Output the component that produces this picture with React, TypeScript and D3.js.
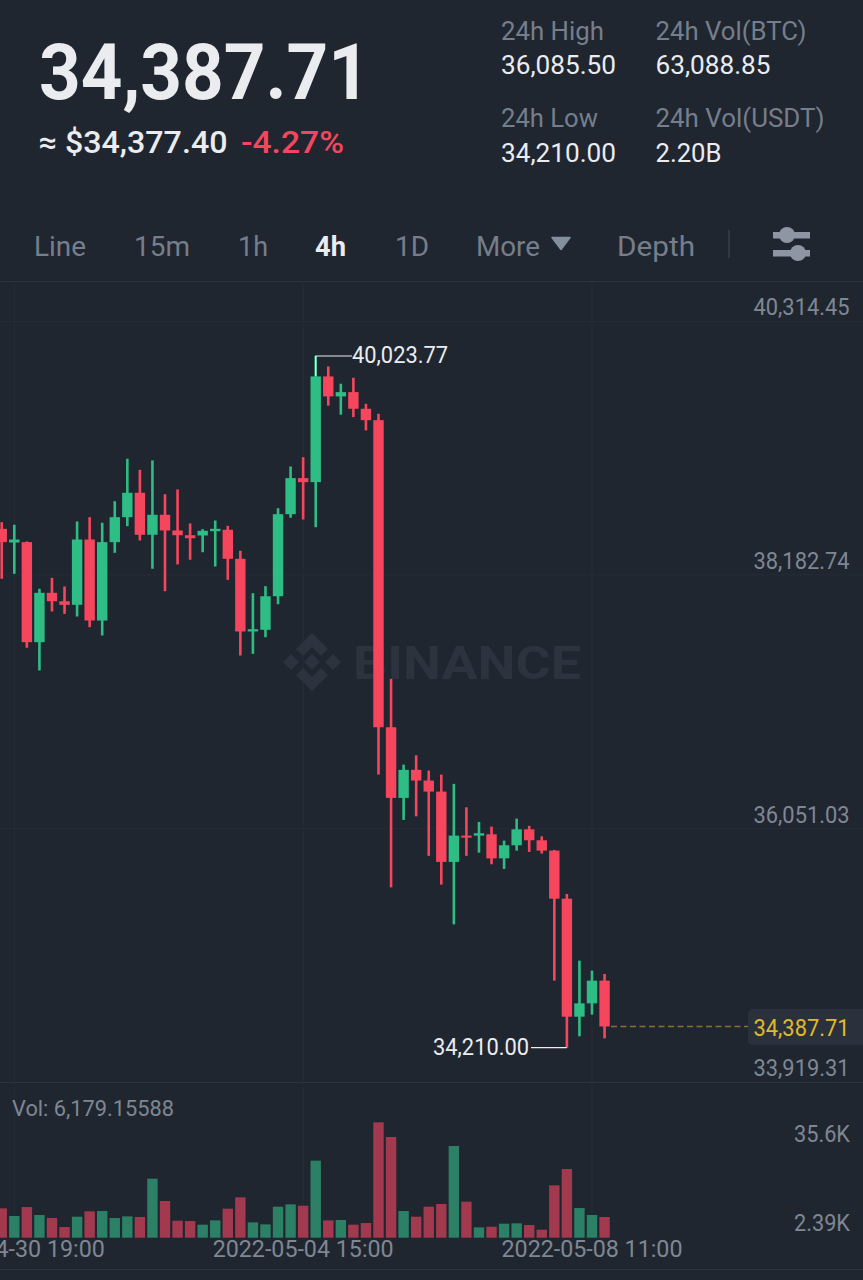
import React from 'react';
import * as d3 from 'd3';

const WIDTH = 863;
const HEIGHT = 1280;

// 4h candles, first one opens 2022-04-30 15:00
const firstCandle = Date.UTC(2022, 3, 30, 15);
const fourHours = 4 * 3600 * 1000;

const opens = [38571, 38456, 38459, 37618, 38033, 37962, 37932, 38481, 37800, 38459, 38669, 38874, 38521, 38689, 38557, 38517, 38515, 38551, 38563, 38319, 37708, 37722, 38004, 38694, 38997, 38963, 39852, 39684, 39720, 39580, 39484, 36903, 36309, 36545, 36455, 36362, 35771, 35992, 35992, 36003, 35801, 35911, 36045, 35953, 35866, 35462, 34470, 34582, 34773];
const closes = [38459, 38481, 37618, 38033, 37962, 37932, 38481, 37800, 38459, 38669, 38874, 38521, 38689, 38557, 38517, 38492, 38554, 38571, 38319, 37708, 37727, 38004, 38694, 38997, 38963, 39852, 39684, 39720, 39580, 39484, 36903, 36309, 36545, 36455, 36362, 35771, 35992, 35975, 36012, 35801, 35911, 36045, 35953, 35866, 35462, 34470, 34582, 34773, 34387.71];
const highs = [38627, 38605, 38465, 38067, 38159, 38086, 38633, 38669, 38622, 38803, 39160, 39067, 39146, 38862, 38902, 38616, 38568, 38641, 38596, 38386, 38030, 38089, 38744, 39095, 39173, 40023.77, 39936, 39791, 39841, 39622, 39538, 37310, 36589, 36667, 36539, 36505, 36427, 36230, 36107, 36068, 35950, 36135, 36074, 35986, 35872, 35502, 34941, 34857, 34829];
const lows = [38151, 38193, 37571, 37380, 37876, 37856, 37834, 37744, 37674, 38369, 38593, 38473, 38235, 38046, 38271, 38311, 38374, 38254, 38142, 37506, 37520, 37660, 37937, 38664, 38649, 38585, 39606, 39530, 39510, 39398, 36505, 35557, 36124, 36154, 35822, 35580, 35246, 35822, 35849, 35751, 35712, 35866, 35855, 35841, 34773, 34210, 34305, 34487, 34288];
const volumes = [8756, 6467, 9154, 6766, 5872, 3184, 6269, 7860, 7960, 5872, 6368, 6169, 17612, 10945, 5075, 4975, 3881, 5174, 8657, 12040, 4577, 3980, 9254, 9950, 9552, 22985, 5174, 5274, 3881, 4378, 34425, 30050, 7960, 6269, 9254, 10050, 27360, 10746, 3085, 3284, 4179, 4279, 3781, 2388, 15622, 20498, 8856, 6766, 6179.15588];

const priceTicks = [40314.45, 38182.74, 36051.03, 33919.31];
const volumeTicks = [35600, 2390];
const timeTicks = [Date.UTC(2022, 3, 30, 19), Date.UTC(2022, 4, 4, 15), Date.UTC(2022, 4, 8, 11)];
const tabs = ['Line', '15m', '1h', '4h', '1D', 'More', 'Depth'];

const BG = '#1f2630';
const UP = '#2ebd85';
const DOWN = '#f6465d';
const UP_VOL = '#2b8066';
const DOWN_VOL = '#a3394e';
const GRID = '#262d38';
const LINE = '#2c333e';
const MUTED = '#767e8b';
const LABEL = '#7f8793';
const WHITE = '#eaecef';
const FONT = 'Roboto, sans-serif';

const fmtPrice = d3.format(',.2f');
const fmtTime = d3.utcFormat('%Y-%m-%d %H:%M');

const x = d3.scaleUtc().domain([timeTicks[0], timeTicks[2]]).range([14.3, 592]);
const y = d3.scaleLinear().domain([priceTicks[3], priceTicks[0]]).range([1082.2, 321.4]);
const yVol = d3.scaleLinear().domain([0, 35600]).range([1237.7, 1118.4]);

const candles = opens.map((open, i) => ({
  t: firstCandle + i * fourHours,
  open,
  close: closes[i],
  high: highs[i],
  low: lows[i],
  vol: volumes[i],
  up: closes[i] >= open,
}));

// fitted text, the original uses a DIN style font we do not have
const T = ({ x: tx, y: ty, w, size, fill, weight = 400, children }: any) => (
  <text x={tx} y={ty} fontSize={size} fill={fill} fontWeight={weight} fontFamily={FONT}
    textLength={w} lengthAdjust="spacingAndGlyphs">{children}</text>
);

const tabBoxes: Record<string, [number, number]> = {
  Line: [34, 52], '15m': [134, 56], '1h': [238, 30], '4h': [315, 31], '1D': [395, 34], More: [476, 64], Depth: [617, 78],
};

const priceLabelFits = 96;

export default function App() {
  const bodyW = 10.4;
  const wickW = 2.6;
  const lastY = y(closes[closes.length - 1]);
  const hiX = x(candles[25].t);
  const loX = x(candles[45].t);

  return (
    <>
      <style>{`html,body{margin:0;padding:0;background:${BG}}`}</style>
      <svg width={WIDTH} height={HEIGHT} style={{ display: 'block' }}>
        <rect width={WIDTH} height={HEIGHT} fill={BG} />

        {/* header */}
        <T x={39} y={99} w={331} size={78} fill={WHITE} weight={700}>34,387.71</T>
        <T x={38.5} y={153} w={189} size={31} fill={WHITE} weight={500}>≈ $34,377.40</T>
        <T x={241} y={153} w={103} size={31} fill={DOWN} weight={500}>-4.27%</T>

        <T x={501} y={40} w={103} size={25} fill={MUTED}>24h High</T>
        <T x={501} y={74} w={115} size={25} fill={WHITE}>36,085.50</T>
        <T x={501} y={127} w={97} size={25} fill={MUTED}>24h Low</T>
        <T x={501} y={162} w={115} size={25} fill={WHITE}>34,210.00</T>
        <T x={655.5} y={40} w={151} size={25} fill={MUTED}>24h Vol(BTC)</T>
        <T x={655.5} y={74} w={115} size={25} fill={WHITE}>63,088.85</T>
        <T x={655.5} y={127} w={169} size={25} fill={MUTED}>24h Vol(USDT)</T>
        <T x={655.5} y={162} w={66} size={25} fill={WHITE}>2.20B</T>

        {/* tabs */}
        {tabs.map((tab) => (
          <T key={tab} x={tabBoxes[tab][0]} y={256} w={tabBoxes[tab][1]} size={28}
            fill={tab === '4h' ? WHITE : MUTED} weight={tab === '4h' ? 700 : 400}>{tab}</T>
        ))}
        <path d="M552 237.5 H570 L561 249.5 Z" fill="#848e9c" stroke="#848e9c" strokeWidth={1.5} strokeLinejoin="round" />
        <line x1={729} x2={729} y1={230} y2={258} stroke="#3a414c" strokeWidth={1.5} />
        <g fill="#8f96a3">
          <rect x={773} y={232} width={37} height={6.5} />
          <circle cx={787} cy={235} r={8} />
          <rect x={773} y={250} width={37} height={6.5} />
          <circle cx={798} cy={253} r={8} />
        </g>

        {/* frame and grid */}
        {[281.5, 1082.5, 1269.5].map((ly) => (
          <line key={ly} x1={0} x2={WIDTH} y1={ly} y2={ly} stroke={LINE} strokeWidth={1} />
        ))}
        {priceTicks.slice(0, 3).map((p) => (
          <line key={p} x1={0} x2={WIDTH} y1={y(p)} y2={y(p)} stroke={GRID} strokeWidth={1} />
        ))}
        {timeTicks.map((t) => (
          <line key={t} x1={x(t)} x2={x(t)} y1={281} y2={1238} stroke={GRID} strokeWidth={1} />
        ))}

        {/* watermark */}
        <g fill="#2c333e">
          <path d="M312 633 L328 649 L321 656 L312 647 L303 656 L296 649 Z" />
          <path d="M312 691 L328 675 L321 668 L312 677 L303 668 L296 675 Z" />
          <path d="M312 654 L320 662 L312 670 L304 662 Z" />
          <path d="M291 654 L299 662 L291 670 L283 662 Z" />
          <path d="M333 654 L341 662 L333 670 L325 662 Z" />
          <T x={353} y={679} w={228} size={46} fill="#2c333e" weight={700}>BINANCE</T>
        </g>

        {/* candles */}
        {candles.map((d) => (
          <g key={d.t} fill={d.up ? UP : DOWN}>
            <rect x={x(d.t) - wickW / 2} width={wickW} y={y(d.high)} height={y(d.low) - y(d.high)} />
            <rect x={x(d.t) - bodyW / 2} width={bodyW} y={y(Math.max(d.open, d.close))}
              height={Math.max(1, Math.abs(y(d.open) - y(d.close)))} />
          </g>
        ))}

        {/* high / low markers */}
        <path d={`M${hiX} 376 V${y(highs[25])} H352`} fill="none" stroke={WHITE} strokeWidth={1.2} />
        <T x={352} y={363} w={96} size={23} fill={WHITE}>{fmtPrice(highs[25])}</T>
        <line x1={531} x2={loX} y1={y(lows[45])} y2={y(lows[45])} stroke={WHITE} strokeWidth={1.2} />
        <T x={433} y={1055} w={96} size={23} fill={WHITE}>{fmtPrice(lows[45])}</T>

        {/* last price */}
        <line x1={611} x2={748} y1={lastY} y2={lastY} stroke="#8a7030" strokeWidth={1.5} strokeDasharray="6 3.5" />
        <rect x={748} y={1009} width={125} height={36} rx={5} fill="#2a313c" />
        <T x={753.5} y={1036} w={priceLabelFits} size={23} fill="#e0b92b">{fmtPrice(closes[closes.length - 1])}</T>

        {/* price axis */}
        {priceTicks.map((p) => (
          <T key={p} x={753.5} y={y(p) - 6} w={priceLabelFits} size={23} fill={LABEL}>{fmtPrice(p)}</T>
        ))}

        {/* volume */}
        <T x={12} y={1116} w={162} size={22} fill={LABEL}>Vol: {d3.format(',.5f')(volumes[volumes.length - 1])}</T>
        {candles.map((d) => (
          <rect key={d.t} x={x(d.t) - bodyW / 2} width={bodyW} y={yVol(d.vol)}
            height={yVol(0) - yVol(d.vol)} fill={d.up ? UP_VOL : DOWN_VOL} />
        ))}
        <T x={794} y={1142} w={56} size={23} fill={LABEL}>{d3.format('.1f')(volumeTicks[0] / 1000)}K</T>
        <T x={794} y={1231} w={56} size={23} fill={LABEL}>{d3.format('.2f')(volumeTicks[1] / 1000)}K</T>

        {/* time axis */}
        {timeTicks.map((t) => (
          <T key={t} x={x(t) - 90.5} y={1257} w={181} size={23} fill={LABEL}>{fmtTime(new Date(t))}</T>
        ))}
      </svg>
    </>
  );
}
